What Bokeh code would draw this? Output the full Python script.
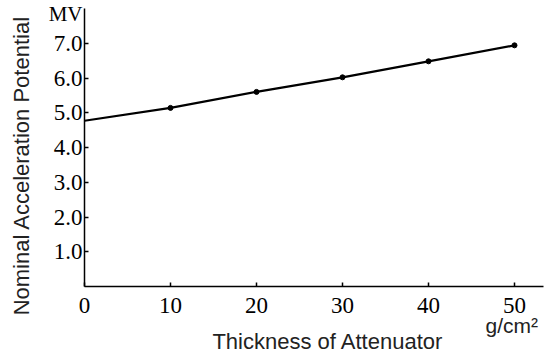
import math
from bokeh.plotting import figure
from bokeh.models import Range1d, FixedTicker, Label
from bokeh.embed import file_html
from bokeh.resources import INLINE

# Data
thickness = [0, 10, 20, 30, 40, 50]               # g/cm^2
potential = [4.77, 5.14, 5.60, 6.02, 6.48, 6.94]  # MV

x_ticks = [0, 10, 20, 30, 40, 50]
y_ticks = [1, 2, 3, 4, 5, 6, 7]
y_tick_labels = ["1.0", "2.0", "3.0", "4.0", "5.0", "6.0", "7.0"]

x_title = "Thickness of Attenuator"
x_unit = "g/cm²"
y_title = "Nominal Acceleration Potential"
y_unit = "MV"

SERIF = "Liberation Serif"
SANS = "Liberation Sans"

W, H = 557, 353
px_x = 8.6     # pixels per g/cm^2
px_y = 34.75   # pixels per MV
x0_px, y0_px = 84, 286  # pixel position of the origin

p = figure(width=W, height=H, output_backend="svg", toolbar_location=None,
           x_range=Range1d(-x0_px / px_x, (W - x0_px) / px_x),
           y_range=Range1d(-(H - y0_px) / px_y, y0_px / px_y),
           min_border=0)
p.outline_line_color = None
p.xgrid.visible = False
p.ygrid.visible = False
p.background_fill_color = "white"
p.border_fill_color = "white"

for ax in (p.xaxis[0], p.yaxis[0]):
    ax.fixed_location = 0
    ax.axis_line_color = "black"
    ax.axis_line_width = 1.5
    ax.major_tick_in = 4
    ax.major_tick_out = 0
    ax.major_tick_line_color = "black"
    ax.major_tick_line_width = 1.5
    ax.minor_tick_line_color = None
    ax.major_label_text_font = SERIF
    ax.major_label_text_font_size = "23px"
    ax.major_label_text_color = "black"

p.xaxis.bounds = (0, 53.4)
p.yaxis.bounds = (0, 8.0)
p.xaxis.ticker = FixedTicker(ticks=x_ticks)
p.yaxis.ticker = FixedTicker(ticks=y_ticks)
p.yaxis.major_label_overrides = {t: s for t, s in zip(y_ticks, y_tick_labels)}
p.xaxis.major_label_standoff = 11
p.yaxis.major_label_standoff = 2

p.line(thickness, potential, line_color="black", line_width=2.2)
p.scatter(thickness[1:], potential[1:], size=5, color="black")

p.add_layout(Label(x=-0.23, y=7.856, text=y_unit, text_align="right",
                   text_baseline="alphabetic", text_font=SERIF,
                   text_font_size="21px", text_color="black"))
p.add_layout(Label(x=-7.33, y=3.48, text=y_title, angle=math.pi / 2,
                   text_align="center", text_baseline="middle",
                   text_font=SANS, text_font_size="22px", text_color="#222222"))
p.add_layout(Label(x=28.31, y=-1.583, text=x_title, text_align="center",
                   text_baseline="alphabetic", text_font=SANS,
                   text_font_size="22px", text_color="#222222"))
p.add_layout(Label(x=46.63, y=-1.122, text=x_unit, text_align="left",
                   text_baseline="alphabetic", text_font=SANS,
                   text_font_size="21px", text_color="#222222"))

open("out.html", "w").write(file_html(p, INLINE))
